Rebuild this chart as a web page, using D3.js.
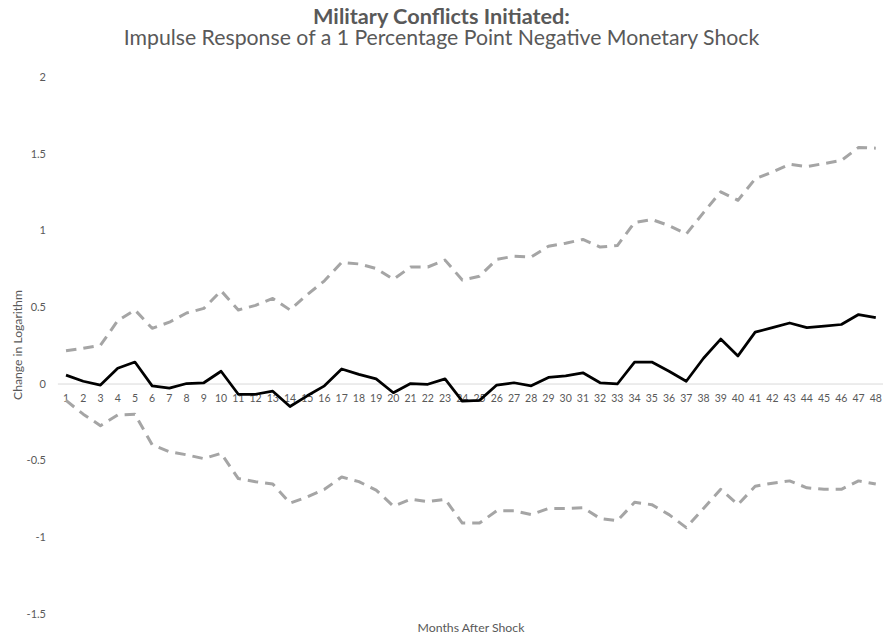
<!DOCTYPE html>
<html>
<head><meta charset="utf-8">
<title>Military Conflicts Initiated</title>
<style>
body { margin:0; background:#fff; }
svg text { font-family: Lato, "Open Sans", sans-serif; }
</style>
</head>
<body>
<svg width="883" height="635"></svg>
<script src="https://d3js.org/d3.v7.min.js"></script>
<script>
// months after shock (category axis)
var months = d3.range(1, 49);

// impulse response, point estimate
var response = [0.055, 0.015, -0.01, 0.10, 0.14, -0.015, -0.03, 0.0, 0.005, 0.08,
  -0.07, -0.07, -0.05, -0.15, -0.08, -0.015, 0.095, 0.06, 0.03, -0.06,
  0.0, -0.005, 0.03, -0.115, -0.11, -0.01, 0.005, -0.015, 0.04, 0.05,
  0.07, 0.005, -0.003, 0.14, 0.14, 0.08, 0.015, 0.165, 0.29, 0.18,
  0.335, 0.365, 0.395, 0.365, 0.375, 0.385, 0.45, 0.43];

// upper confidence band
var upper = [0.214, 0.23, 0.25, 0.41, 0.48, 0.36, 0.40, 0.46, 0.49, 0.605,
  0.48, 0.51, 0.555, 0.48, 0.58, 0.67, 0.79, 0.78, 0.75, 0.68,
  0.76, 0.76, 0.805, 0.675, 0.70, 0.81, 0.83, 0.825, 0.895, 0.915,
  0.94, 0.89, 0.90, 1.05, 1.07, 1.03, 0.975, 1.115, 1.25, 1.195,
  1.335, 1.38, 1.43, 1.415, 1.435, 1.455, 1.54, 1.535];

// lower confidence band
var lower = [-0.11, -0.20, -0.275, -0.205, -0.20, -0.40, -0.445, -0.465, -0.49, -0.455,
  -0.62, -0.64, -0.655, -0.78, -0.74, -0.69, -0.61, -0.64, -0.695, -0.80,
  -0.755, -0.77, -0.755, -0.91, -0.91, -0.83, -0.83, -0.855, -0.815, -0.815,
  -0.81, -0.88, -0.895, -0.775, -0.79, -0.855, -0.94, -0.815, -0.69, -0.79,
  -0.67, -0.65, -0.635, -0.68, -0.69, -0.69, -0.635, -0.655];

var yTicks = [2, 1.5, 1, 0.5, 0, -0.5, -1, -1.5];
var yTickLabels = ["2", "1.5", "1", "0.5", "0", "-0.5", "-1", "-1.5"];

var svg = d3.select("svg");
var grey = "#595959";

var x = d3.scaleBand().domain(months).range([57.4, 884.4]).padding(0);
var y = d3.scaleLinear().domain([-1.5, 2]).range([613.5, 76.9]);
var cx = function(m) { return x(m) + x.bandwidth() / 2; };

// scale a text's font so it takes the width seen in the picture
function fit(sel, w) {
  var fs = +sel.attr("font-size");
  var len = sel.node().getComputedTextLength();
  sel.attr("font-size", fs * w / len);
  return sel;
}

// titles
fit(svg.append("text")
    .attr("x", 441.5).attr("y", 24)
    .attr("text-anchor", "middle")
    .attr("font-size", 18.5).attr("font-weight", "bold")
    .attr("fill", grey)
    .text("Military Conflicts Initiated:"), 257);
fit(svg.append("text")
    .attr("x", 441.5).attr("y", 45)
    .attr("text-anchor", "middle")
    .attr("font-size", 18.5)
    .attr("fill", grey)
    .text("Impulse Response of a 1 Percentage Point Negative Monetary Shock"), 636);

// y axis labels
var yAxis = svg.append("g")
    .attr("transform", "translate(46,0)")
    .call(d3.axisLeft(y).tickValues(yTicks).tickSize(0)
      .tickFormat(function(d, i) { return yTickLabels[i]; }));
yAxis.select(".domain").remove();
yAxis.selectAll("text")
    .attr("font-family", "Lato, sans-serif")
    .attr("font-size", 11).attr("fill", grey).attr("x", 0);

// x axis (sits on zero)
var xAxis = svg.append("g")
    .attr("transform", "translate(0," + y(0) + ")")
    .call(d3.axisBottom(x).tickSize(0));
xAxis.select(".domain").attr("stroke", "#d9d9d9").attr("stroke-width", 1);
xAxis.selectAll("text")
    .attr("font-family", "Lato, sans-serif")
    .attr("font-size", 10.5).attr("fill", grey).attr("y", 11);

// axis titles
fit(svg.append("text")
    .attr("transform", "translate(17,345) rotate(-90)")
    .attr("text-anchor", "middle").attr("dominant-baseline", "central")
    .attr("font-size", 12).attr("fill", grey)
    .text("Change in Logarithm"), 110);
fit(svg.append("text")
    .attr("x", 471).attr("y", 631.5)
    .attr("text-anchor", "middle")
    .attr("font-size", 12).attr("fill", grey)
    .text("Months After Shock"), 107);

var line = d3.line()
    .x(function(d, i) { return cx(months[i]); })
    .y(function(d) { return y(d); });

svg.append("path").datum(upper)
    .attr("d", line).attr("fill", "none")
    .attr("stroke", "#a5a5a5").attr("stroke-width", 3)
    .attr("stroke-dasharray", "10.5,7").attr("stroke-linejoin", "round");
svg.append("path").datum(lower)
    .attr("d", line).attr("fill", "none")
    .attr("stroke", "#a5a5a5").attr("stroke-width", 3)
    .attr("stroke-dasharray", "10.5,7").attr("stroke-linejoin", "round");
svg.append("path").datum(response)
    .attr("d", line).attr("fill", "none")
    .attr("stroke", "#000").attr("stroke-width", 2.75)
    .attr("stroke-linejoin", "round");
</script>
</body>
</html>
